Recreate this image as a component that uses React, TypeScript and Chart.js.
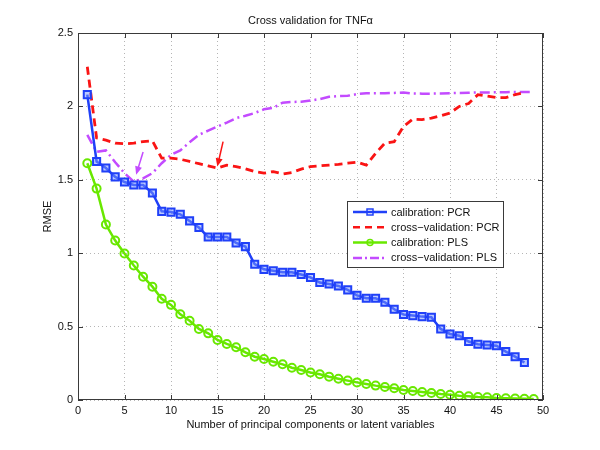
import React, { useEffect, useRef } from 'react';
import { Chart, registerables } from 'chart.js';

Chart.register(...registerables);

// RMSE vs number of components (x starts at 1)
const pcrCalibration = [
  2.08, 1.625, 1.58, 1.52, 1.485, 1.465, 1.465, 1.41, 1.285, 1.28,
  1.265, 1.22, 1.175, 1.11, 1.11, 1.11, 1.07, 1.045, 0.925, 0.89,
  0.88, 0.87, 0.87, 0.855, 0.835, 0.8, 0.79, 0.777, 0.75, 0.713,
  0.693, 0.693, 0.666, 0.618, 0.582, 0.575, 0.568, 0.564, 0.484, 0.45,
  0.438, 0.398, 0.38, 0.375, 0.37, 0.33, 0.295, 0.255,
];
const pcrCrossVal = [
  2.27, 1.785, 1.77, 1.75, 1.745, 1.75, 1.76, 1.765, 1.647, 1.647,
  1.64, 1.625, 1.61, 1.595, 1.58, 1.6, 1.59, 1.575, 1.556, 1.545,
  1.556, 1.54, 1.55, 1.573, 1.59, 1.595, 1.6, 1.605, 1.613, 1.62,
  1.6, 1.68, 1.75, 1.76, 1.863, 1.913, 1.91, 1.92, 1.936, 1.955,
  2.0, 2.02, 2.08, 2.07, 2.06, 2.06, 2.08, 2.095,
];
const plsCalibration = [
  1.613, 1.44, 1.195, 1.086, 0.998, 0.916, 0.84, 0.772, 0.69, 0.648,
  0.584, 0.54, 0.484, 0.454, 0.409, 0.382, 0.359, 0.325, 0.295, 0.279,
  0.261, 0.243, 0.22, 0.204, 0.187, 0.175, 0.159, 0.145, 0.132, 0.12,
  0.109, 0.098, 0.089, 0.08, 0.068, 0.061, 0.055, 0.048, 0.041, 0.036,
  0.029, 0.025, 0.02, 0.018, 0.014, 0.012, 0.01, 0.008, 0.006,
];
const plsCrossVal = [
  1.806, 1.69, 1.7, 1.62, 1.545, 1.488, 1.51, 1.545, 1.613, 1.67,
  1.7, 1.756, 1.806, 1.835, 1.863, 1.89, 1.92, 1.936, 1.955, 1.98,
  1.99, 2.025, 2.03, 2.032, 2.04, 2.05, 2.065, 2.07, 2.072, 2.084,
  2.09, 2.09, 2.09, 2.092, 2.095, 2.088, 2.087, 2.087, 2.088, 2.09,
  2.092, 2.093, 2.095, 2.095, 2.096, 2.097, 2.098, 2.098, 2.098,
];

// annotation arrows: [fromX, fromY, toX, toY] in data units
const redArrow = [15.6, 1.76, 14.98, 1.59];
const magentaArrow = [7.0, 1.69, 6.25, 1.535];

const xTicks = [0, 5, 10, 15, 20, 25, 30, 35, 40, 45, 50];
const yTicks = [0, 0.5, 1, 1.5, 2, 2.5];

const BLUE = 'rgb(32, 64, 248)';
const RED = 'rgb(250, 20, 20)';
const GREEN = 'rgb(105, 232, 0)';
const PURPLE = 'rgb(195, 75, 255)';
const FONT = '"Liberation Sans", Arial, sans-serif';

const toPoints = (arr: number[]) => arr.map((y, i) => ({ x: i + 1, y }));

const decorations = {
  id: 'decorations',
  afterDatasetsDraw(chart: any) {
    const { ctx, chartArea: a, scales } = chart;
    const xs = scales.x;
    const ys = scales.y;
    ctx.save();

    // axes box and inward ticks
    ctx.strokeStyle = '#3a3a3a';
    ctx.lineWidth = 1;
    ctx.strokeRect(a.left + 0.5, a.top + 0.5, a.right - a.left - 1, a.bottom - a.top - 1);
    ctx.beginPath();
    xTicks.forEach((t) => {
      const px = Math.round(xs.getPixelForValue(t)) + 0.5;
      ctx.moveTo(px, a.bottom); ctx.lineTo(px, a.bottom - 5);
      ctx.moveTo(px, a.top); ctx.lineTo(px, a.top + 5);
    });
    yTicks.forEach((t) => {
      const py = Math.round(ys.getPixelForValue(t)) + 0.5;
      ctx.moveTo(a.left, py); ctx.lineTo(a.left + 5, py);
      ctx.moveTo(a.right, py); ctx.lineTo(a.right - 5, py);
    });
    ctx.stroke();

    // arrows
    const drawArrow = (arr: number[], color: string) => {
      const x1 = xs.getPixelForValue(arr[0]);
      const y1 = ys.getPixelForValue(arr[1]);
      const x2 = xs.getPixelForValue(arr[2]);
      const y2 = ys.getPixelForValue(arr[3]);
      const ang = Math.atan2(y2 - y1, x2 - x1);
      ctx.strokeStyle = color;
      ctx.fillStyle = color;
      ctx.lineWidth = 1.5;
      ctx.beginPath();
      ctx.moveTo(x1, y1);
      ctx.lineTo(x2 - 6 * Math.cos(ang), y2 - 6 * Math.sin(ang));
      ctx.stroke();
      ctx.beginPath();
      ctx.moveTo(x2, y2);
      ctx.lineTo(x2 - 9 * Math.cos(ang - 0.4), y2 - 9 * Math.sin(ang - 0.4));
      ctx.lineTo(x2 - 9 * Math.cos(ang + 0.4), y2 - 9 * Math.sin(ang + 0.4));
      ctx.closePath();
      ctx.fill();
    };
    drawArrow(redArrow, RED);
    drawArrow(magentaArrow, PURPLE);

    // legend
    const lx = 347, ly = 201, lw = 156, lh = 66;
    ctx.fillStyle = '#fff';
    ctx.fillRect(lx, ly, lw, lh);
    ctx.strokeStyle = '#3a3a3a';
    ctx.lineWidth = 1;
    ctx.strokeRect(lx + 0.5, ly + 0.5, lw, lh);
    const entries = [
      { label: 'calibration: PCR', color: BLUE, dash: [], marker: 'rect' },
      { label: 'cross\u2212validation: PCR', color: RED, dash: [7, 5], marker: '' },
      { label: 'calibration: PLS', color: GREEN, dash: [], marker: 'circle' },
      { label: 'cross\u2212validation: PLS', color: PURPLE, dash: [9, 3, 2, 3], marker: '' },
    ];
    entries.forEach((e, i) => {
      const y = ly + 11 + i * 15.3;
      ctx.strokeStyle = e.color;
      ctx.lineWidth = 2.5;
      ctx.setLineDash(e.dash);
      ctx.beginPath();
      ctx.moveTo(lx + 6, y);
      ctx.lineTo(lx + 40, y);
      ctx.stroke();
      ctx.setLineDash([]);
      ctx.lineWidth = 1.5;
      if (e.marker === 'rect') {
        ctx.strokeRect(lx + 20, y - 3, 6, 6);
      } else if (e.marker === 'circle') {
        ctx.beginPath();
        ctx.arc(lx + 23, y, 3, 0, Math.PI * 2);
        ctx.stroke();
      }
      ctx.fillStyle = '#111';
      ctx.font = `11px ${FONT}`;
      ctx.textAlign = 'left';
      ctx.textBaseline = 'middle';
      ctx.fillText(e.label, lx + 44, y + 0.5);
    });

    // titles
    ctx.fillStyle = '#111';
    ctx.font = `11px ${FONT}`;
    ctx.textAlign = 'center';
    ctx.textBaseline = 'middle';
    ctx.fillText('Cross validation for TNF\u03b1', (a.left + a.right) / 2, 21);
    ctx.fillText('Number of principal components or latent variables', (a.left + a.right) / 2, 425);
    ctx.translate(48, (a.top + a.bottom) / 2);
    ctx.rotate(-Math.PI / 2);
    ctx.fillText('RMSE', 0, 0);
    ctx.restore();
  },
};

const App: React.FC = () => {
  const canvasRef = useRef<HTMLCanvasElement | null>(null);

  useEffect(() => {
    if (!canvasRef.current) return;
    const chart = new Chart(canvasRef.current, {
      type: 'line',
      data: {
        datasets: [
          {
            label: 'calibration: PCR',
            data: toPoints(pcrCalibration),
            borderColor: BLUE,
            borderWidth: 2.5,
            pointStyle: 'rect',
            pointRadius: 5,
            pointBorderWidth: 2,
            pointBackgroundColor: 'rgba(120, 150, 255, 0.5)',
            pointBorderColor: BLUE,
            tension: 0,
          },
          {
            label: 'cross-validation: PCR',
            data: toPoints(pcrCrossVal),
            borderColor: RED,
            borderWidth: 2.8,
            borderDash: [8, 5],
            pointRadius: 0,
            tension: 0,
          },
          {
            label: 'calibration: PLS',
            data: toPoints(plsCalibration),
            borderColor: GREEN,
            borderWidth: 2.5,
            pointStyle: 'circle',
            pointRadius: 4,
            pointBorderWidth: 2,
            pointBackgroundColor: 'rgba(0,0,0,0)',
            pointBorderColor: GREEN,
            tension: 0,
          },
          {
            label: 'cross-validation: PLS',
            data: toPoints(plsCrossVal),
            borderColor: PURPLE,
            borderWidth: 2.5,
            borderDash: [10, 4, 2, 4],
            pointRadius: 0,
            tension: 0,
          },
        ],
      },
      options: {
        responsive: false,
        animation: false,
        layout: { padding: { top: 33, right: 57, left: 0, bottom: 0 } },
        plugins: { legend: { display: false }, tooltip: { enabled: false }, title: { display: false } },
        scales: {
          x: {
            type: 'linear',
            min: 0,
            max: 50,
            afterFit: (s: any) => { s.height = 50; },
            afterBuildTicks: (s: any) => { s.ticks = xTicks.map((v) => ({ value: v })); },
            grid: { color: '#b5b5b5', drawTicks: false, lineWidth: 1 },
            border: { display: false, dash: [1, 3] },
            ticks: { color: '#111', padding: 4, font: { family: FONT, size: 11 }, callback: (v: any) => String(v) },
          },
          y: {
            type: 'linear',
            min: 0,
            max: 2.5,
            afterFit: (s: any) => { s.width = 78; },
            afterBuildTicks: (s: any) => { s.ticks = yTicks.map((v) => ({ value: v })); },
            grid: { color: '#b5b5b5', drawTicks: false, lineWidth: 1 },
            border: { display: false, dash: [1, 3] },
            ticks: { color: '#111', padding: 5, font: { family: FONT, size: 11 }, callback: (v: any) => String(v) },
          },
        },
      },
      plugins: [decorations],
    });
    return () => chart.destroy();
  }, []);

  return (
    <div style={{ position: 'fixed', left: 0, top: 0, width: 600, height: 450, background: '#fff' }}>
      <canvas ref={canvasRef} width={600} height={450} />
    </div>
  );
};

export default App;
